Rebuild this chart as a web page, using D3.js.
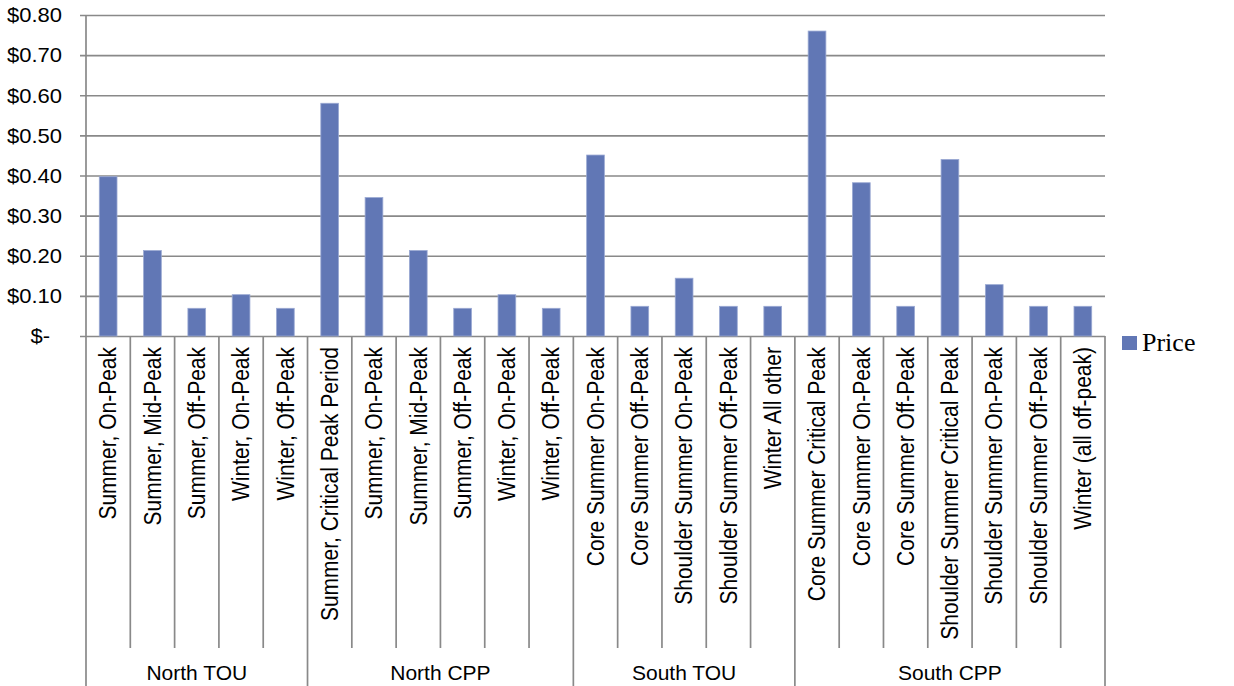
<!DOCTYPE html>
<html>
<head>
<meta charset="utf-8">
<script src="https://cdn.jsdelivr.net/npm/d3@7"></script>
<style>
  html, body { margin: 0; padding: 0; background: #fff; }
  svg { display: block; }
  text { font-family: "Liberation Sans", Arial, sans-serif; fill: #000; }
</style>
</head>
<body>
<svg id="chart" width="1234" height="686"></svg>
<script>
// Rate periods (x categories), tariff each one belongs to, and price per kWh
const periods = [
  "Summer, On-Peak", "Summer, Mid-Peak", "Summer, Off-Peak", "Winter, On-Peak", "Winter, Off-Peak",
  "Summer, Critical Peak Period", "Summer, On-Peak", "Summer, Mid-Peak", "Summer, Off-Peak", "Winter, On-Peak", "Winter, Off-Peak",
  "Core Summer On-Peak", "Core Summer Off-Peak", "Shoulder Summer On-Peak", "Shoulder Summer Off-Peak", "Winter All other",
  "Core Summer Critical Peak", "Core Summer On-Peak", "Core Summer Off-Peak", "Shoulder Summer Critical Peak", "Shoulder Summer On-Peak", "Shoulder Summer Off-Peak", "Winter (all off-peak)"
];
const tariffs = [
  "North TOU", "North TOU", "North TOU", "North TOU", "North TOU",
  "North CPP", "North CPP", "North CPP", "North CPP", "North CPP", "North CPP",
  "South TOU", "South TOU", "South TOU", "South TOU", "South TOU",
  "South CPP", "South CPP", "South CPP", "South CPP", "South CPP", "South CPP", "South CPP"
];
const prices = [
  0.397, 0.213, 0.069, 0.103, 0.069,
  0.580, 0.345, 0.213, 0.069, 0.103, 0.069,
  0.451, 0.074, 0.144, 0.074, 0.074,
  0.760, 0.382, 0.074, 0.440, 0.128, 0.074, 0.074
];
const yTicks = [0, 0.1, 0.2, 0.3, 0.4, 0.5, 0.6, 0.7, 0.8];
const yTickLabels = ["$-", "$0.10", "$0.20", "$0.30", "$0.40", "$0.50", "$0.60", "$0.70", "$0.80"];
const seriesName = "Price";

const barColor = "#6177b5";
const lineColor = "#898989";
const stretch = 1.1;   // slightly wide sans lettering

const svg = d3.select("#chart");
const plot = { left: 86, right: 1105, top: 15, bottom: 336 };
const catLineEnd = 648, groupLineEnd = 686;

const x = d3.scaleBand()
  .domain(d3.range(periods.length))
  .range([plot.left, plot.right])
  .paddingInner(0).paddingOuter(0);

const y = d3.scaleLinear().domain([0, 0.8]).range([plot.bottom, plot.top]);

// Horizontal gridlines with the value axis ticks
const yAxis = d3.axisLeft(y)
  .tickValues(yTicks)
  .tickSize(-(plot.right - plot.left))
  .tickFormat((d, i) => yTickLabels[i]);

const gy = svg.append("g")
  .attr("transform", `translate(${plot.left},0)`)
  .call(yAxis);
gy.select(".domain").remove();
gy.selectAll(".tick line")
  .attr("x1", -6)
  .attr("stroke", lineColor)
  .attr("stroke-width", 1.7);
gy.selectAll(".tick text")
  .attr("x", d => (d === 0 ? -36 : -24) / stretch)
  .attr("transform", `scale(${stretch},1)`)
  .attr("dy", "0.34em")
  .attr("text-anchor", "end")
  .style("font-size", "20px")
  .style("font-family", "'Liberation Sans', Arial, sans-serif")
  .attr("fill", "#000");

// Bars
const barW = x.bandwidth() * 0.4;
svg.append("g").selectAll("rect")
  .data(prices)
  .join("rect")
  .attr("x", (d, i) => x(i) + (x.bandwidth() - barW) / 2)
  .attr("y", d => y(d))
  .attr("width", barW)
  .attr("height", d => y(0) - y(d))
  .attr("fill", barColor)
  .attr("stroke", "#9aa9d3")
  .attr("stroke-width", 0.8);

// Category axis: separators between periods and between tariffs
const bounds = d3.range(periods.length + 1);
const groupStarts = bounds.filter(i => i === 0 || i === periods.length || tariffs[i] !== tariffs[i - 1]);
const xEdge = i => i === periods.length ? plot.right : x(i);

const axisG = svg.append("g");
axisG.selectAll("line.sep")
  .data(bounds)
  .join("line")
  .attr("class", "sep")
  .attr("x1", xEdge).attr("x2", xEdge)
  .attr("y1", i => i === 0 ? plot.top : plot.bottom)
  .attr("y2", i => groupStarts.includes(i) ? groupLineEnd : catLineEnd)
  .attr("stroke", lineColor)
  .attr("stroke-width", 1.7);

// Period labels, rotated
axisG.selectAll("text.period")
  .data(periods)
  .join("text")
  .attr("class", "period")
  .attr("transform", (d, i) => `translate(${x(i) + x.bandwidth() / 2},${plot.bottom + 11}) rotate(-90) scale(1,1.12)`)
  .attr("text-anchor", "end")
  .attr("dy", "0.35em")
  .style("font-size", "21px")
  .text(d => d);

// Tariff group labels
const groups = groupStarts.slice(0, -1).map((s, k) => ({ name: tariffs[s], start: s, end: groupStarts[k + 1] }));
axisG.selectAll("text.group")
  .data(groups)
  .join("text")
  .attr("class", "group")
  .attr("x", g => (xEdge(g.start) + xEdge(g.end)) / 2)
  .attr("y", 680)
  .attr("text-anchor", "middle")
  .style("font-size", "21px")
  .text(g => g.name);

// Legend
const lg = svg.append("g").attr("transform", "translate(1122,336)");
lg.append("rect").attr("width", 15).attr("height", 14).attr("fill", barColor);
lg.append("text")
  .attr("x", 20).attr("y", 15)
  .style("font-family", "'Liberation Serif', 'DejaVu Serif', serif")
  .style("font-size", "26px")
  .text(seriesName);
</script>
</body>
</html>
